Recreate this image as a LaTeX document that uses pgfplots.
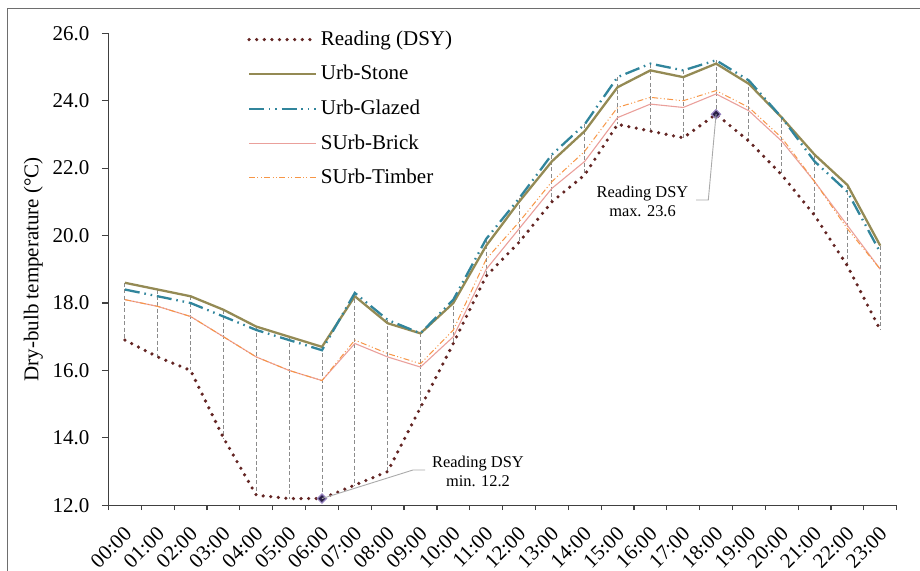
\documentclass[border=0pt]{standalone}
\usepackage{pgfplots}
\pgfplotsset{compat=1.18}
\usepackage{pgfplotstable}
\usepackage{fontspec}
\setmainfont{Liberation Serif}
\definecolor{readc}{RGB}{99,37,35}
\definecolor{stonec}{RGB}{148,138,84}
\definecolor{glazedc}{RGB}{49,133,156}
\definecolor{brickc}{RGB}{234,160,155}
\definecolor{timberc}{RGB}{247,150,70}
\definecolor{axisc}{RGB}{64,64,64}
\definecolor{dropc}{RGB}{140,140,140}
\definecolor{framec}{RGB}{110,110,110}
\definecolor{leadc}{RGB}{170,170,170}
\definecolor{mkfill}{RGB}{40,30,70}
\definecolor{mkdraw}{RGB}{150,130,190}

\pgfplotstableread{
h read stone glazed brick timber
0 16.9 18.6 18.4 18.1 18.1
1 16.4 18.4 18.2 17.9 17.9
2 16.0 18.2 18.0 17.6 17.6
3 14.0 17.8 17.6 17.0 17.0
4 12.3 17.3 17.2 16.4 16.4
5 12.2 17.0 16.9 16.0 16.0
6 12.2 16.7 16.6 15.7 15.7
7 12.6 18.2 18.3 16.8 16.9
8 13.0 17.4 17.5 16.4 16.5
9 14.9 17.1 17.1 16.1 16.2
10 16.8 18.0 18.1 17.0 17.2
11 18.8 19.7 19.9 19.0 19.3
12 19.8 21.0 21.1 20.2 20.4
13 21.0 22.2 22.4 21.4 21.6
14 21.8 23.1 23.3 22.2 22.5
15 23.3 24.4 24.7 23.5 23.8
16 23.1 24.9 25.1 23.9 24.1
17 22.9 24.7 24.9 23.8 24.0
18 23.6 25.1 25.2 24.2 24.3
19 22.8 24.5 24.6 23.7 23.8
20 21.8 23.5 23.5 22.8 22.9
21 20.6 22.4 22.2 21.6 21.6
22 19.1 21.5 21.3 20.3 20.2
23 17.2 19.7 19.5 19.0 19.0
}\datatable

\pgfplotstableread{
h read
6 12.2
18 23.6
}\extremes

\begin{document}
\begin{tikzpicture}
\useasboundingbox (-54.25bp,-32.85bp) rectangle (405.75bp,252.65bp);
\draw[framec, line width=0.7bp] (-50.6bp,-40bp) -- (-50.6bp,248.5bp) -- (420bp,248.5bp);
\begin{axis}[
  at={(0,0)}, anchor=south west,
  scale only axis, width=394.1bp, height=236bp,
  xmin=-0.5, xmax=23.5, ymin=12, ymax=26,
  axis x line*=bottom, axis y line*=left,
  axis line style={-, draw=axisc, line width=0.7bp},
  tick align=outside,
  font=\fontsize{10.5bp}{12bp}\selectfont,
  ytick={12,14,...,26},
  major tick length=3.3bp,
  minor tick length=2.4bp,
  ytick style={draw=axisc, line width=0.6bp},
  yticklabel style={anchor=east, inner sep=0pt, xshift=-6bp,
    /pgf/number format/fixed, /pgf/number format/fixed zerofill,
    /pgf/number format/precision=1, /pgf/number format/assume math mode=true},
  xtick={0,...,23},
  xticklabels={00:00,01:00,02:00,03:00,04:00,05:00,06:00,07:00,08:00,09:00,10:00,11:00,12:00,13:00,14:00,15:00,16:00,17:00,18:00,19:00,20:00,21:00,22:00,23:00},
  major x tick style={draw=none},
  minor xtick={-0.5,0.5,...,23.5},
  minor x tick style={draw=axisc, line width=0.6bp},
  xticklabel style={xshift=-1bp, yshift=-6.6bp, rotate=45, anchor=north east, inner sep=0pt},
  every axis y label/.style={at={(axis description cs:-0.0952,0.5)}, rotate=90, anchor=center},
  ylabel={Dry-bulb temperature (°C)},
  clip=false,
  legend style={at={(0.168,1.0146)}, anchor=north west, draw=none, fill=none,
    font=\fontsize{10.5bp}{12bp}\selectfont, row sep=8.5bp, column sep=1.5bp,
    nodes={inner sep=0pt}},
  legend cell align=left,
  legend image code/.code={\draw[#1] (0bp,0bp) -- (33.5bp,0bp);},
]
\addplot[draw=none, forget plot,
  error bars/.cd, y dir=minus, y explicit, error mark=none,
  error bar style={draw=dropc, line width=0.45bp, dash pattern=on 2bp off 1.2bp}]
  table[x=h,
   y expr={max(\thisrow{read},\thisrow{stone},\thisrow{glazed},\thisrow{brick},\thisrow{timber})},
   y error minus expr={max(\thisrow{read},\thisrow{stone},\thisrow{glazed},\thisrow{brick},\thisrow{timber})-min(\thisrow{read},\thisrow{stone},\thisrow{glazed},\thisrow{brick},\thisrow{timber})}]
  {\datatable};
\addplot[readc, line width=1.8bp, line cap=round, dash pattern=on 0bp off 3.8bp] table[x=h, y=read]{\datatable};
\addlegendentry{Reading (DSY)}
\addplot[stonec, line width=1.15bp] table[x=h, y=stone]{\datatable};
\addlegendentry{Urb-Stone}
\addplot[glazedc, line width=1.15bp, dash pattern=on 7.5bp off 2.4bp on 0.8bp off 2.4bp on 0.8bp off 2.4bp] table[x=h, y=glazed]{\datatable};
\addlegendentry{Urb-Glazed}
\addplot[brickc, line width=0.55bp] table[x=h, y=brick]{\datatable};
\addlegendentry{SUrb-Brick}
\addplot[timberc, line width=0.5bp, dash pattern=on 3bp off 1.2bp on 0.5bp off 1.2bp on 0.5bp off 1.2bp] table[x=h, y=timber]{\datatable};
\addlegendentry{SUrb-Timber}
\addplot[only marks, forget plot, mark=square*, mark size=1.6bp, mark options={rotate=45, fill=mkfill, draw=mkdraw, line width=0.6bp}] table[x=h, y=read]{\extremes};
\coordinate (mn) at (axis cs:6,12.2);
\coordinate (mx) at (axis cs:18,23.6);
\end{axis}
\draw[leadc, line width=0.45bp] (mn) -- (152.25bp,17.65bp) -- (158.25bp,17.65bp);
\draw[leadc, line width=0.45bp] (mx) -- (299.9bp,152.65bp) -- (293.75bp,152.65bp);
\node[align=center, font=\fontsize{8.2bp}{9.5bp}\selectfont, inner sep=0pt] at (184.75bp,16.9bp) {Reading DSY\\min. 12.2};
\node[align=center, font=\fontsize{8.2bp}{9.5bp}\selectfont, inner sep=0pt] at (267bp,152.15bp) {Reading DSY\\max. 23.6};
\end{tikzpicture}
\end{document}
